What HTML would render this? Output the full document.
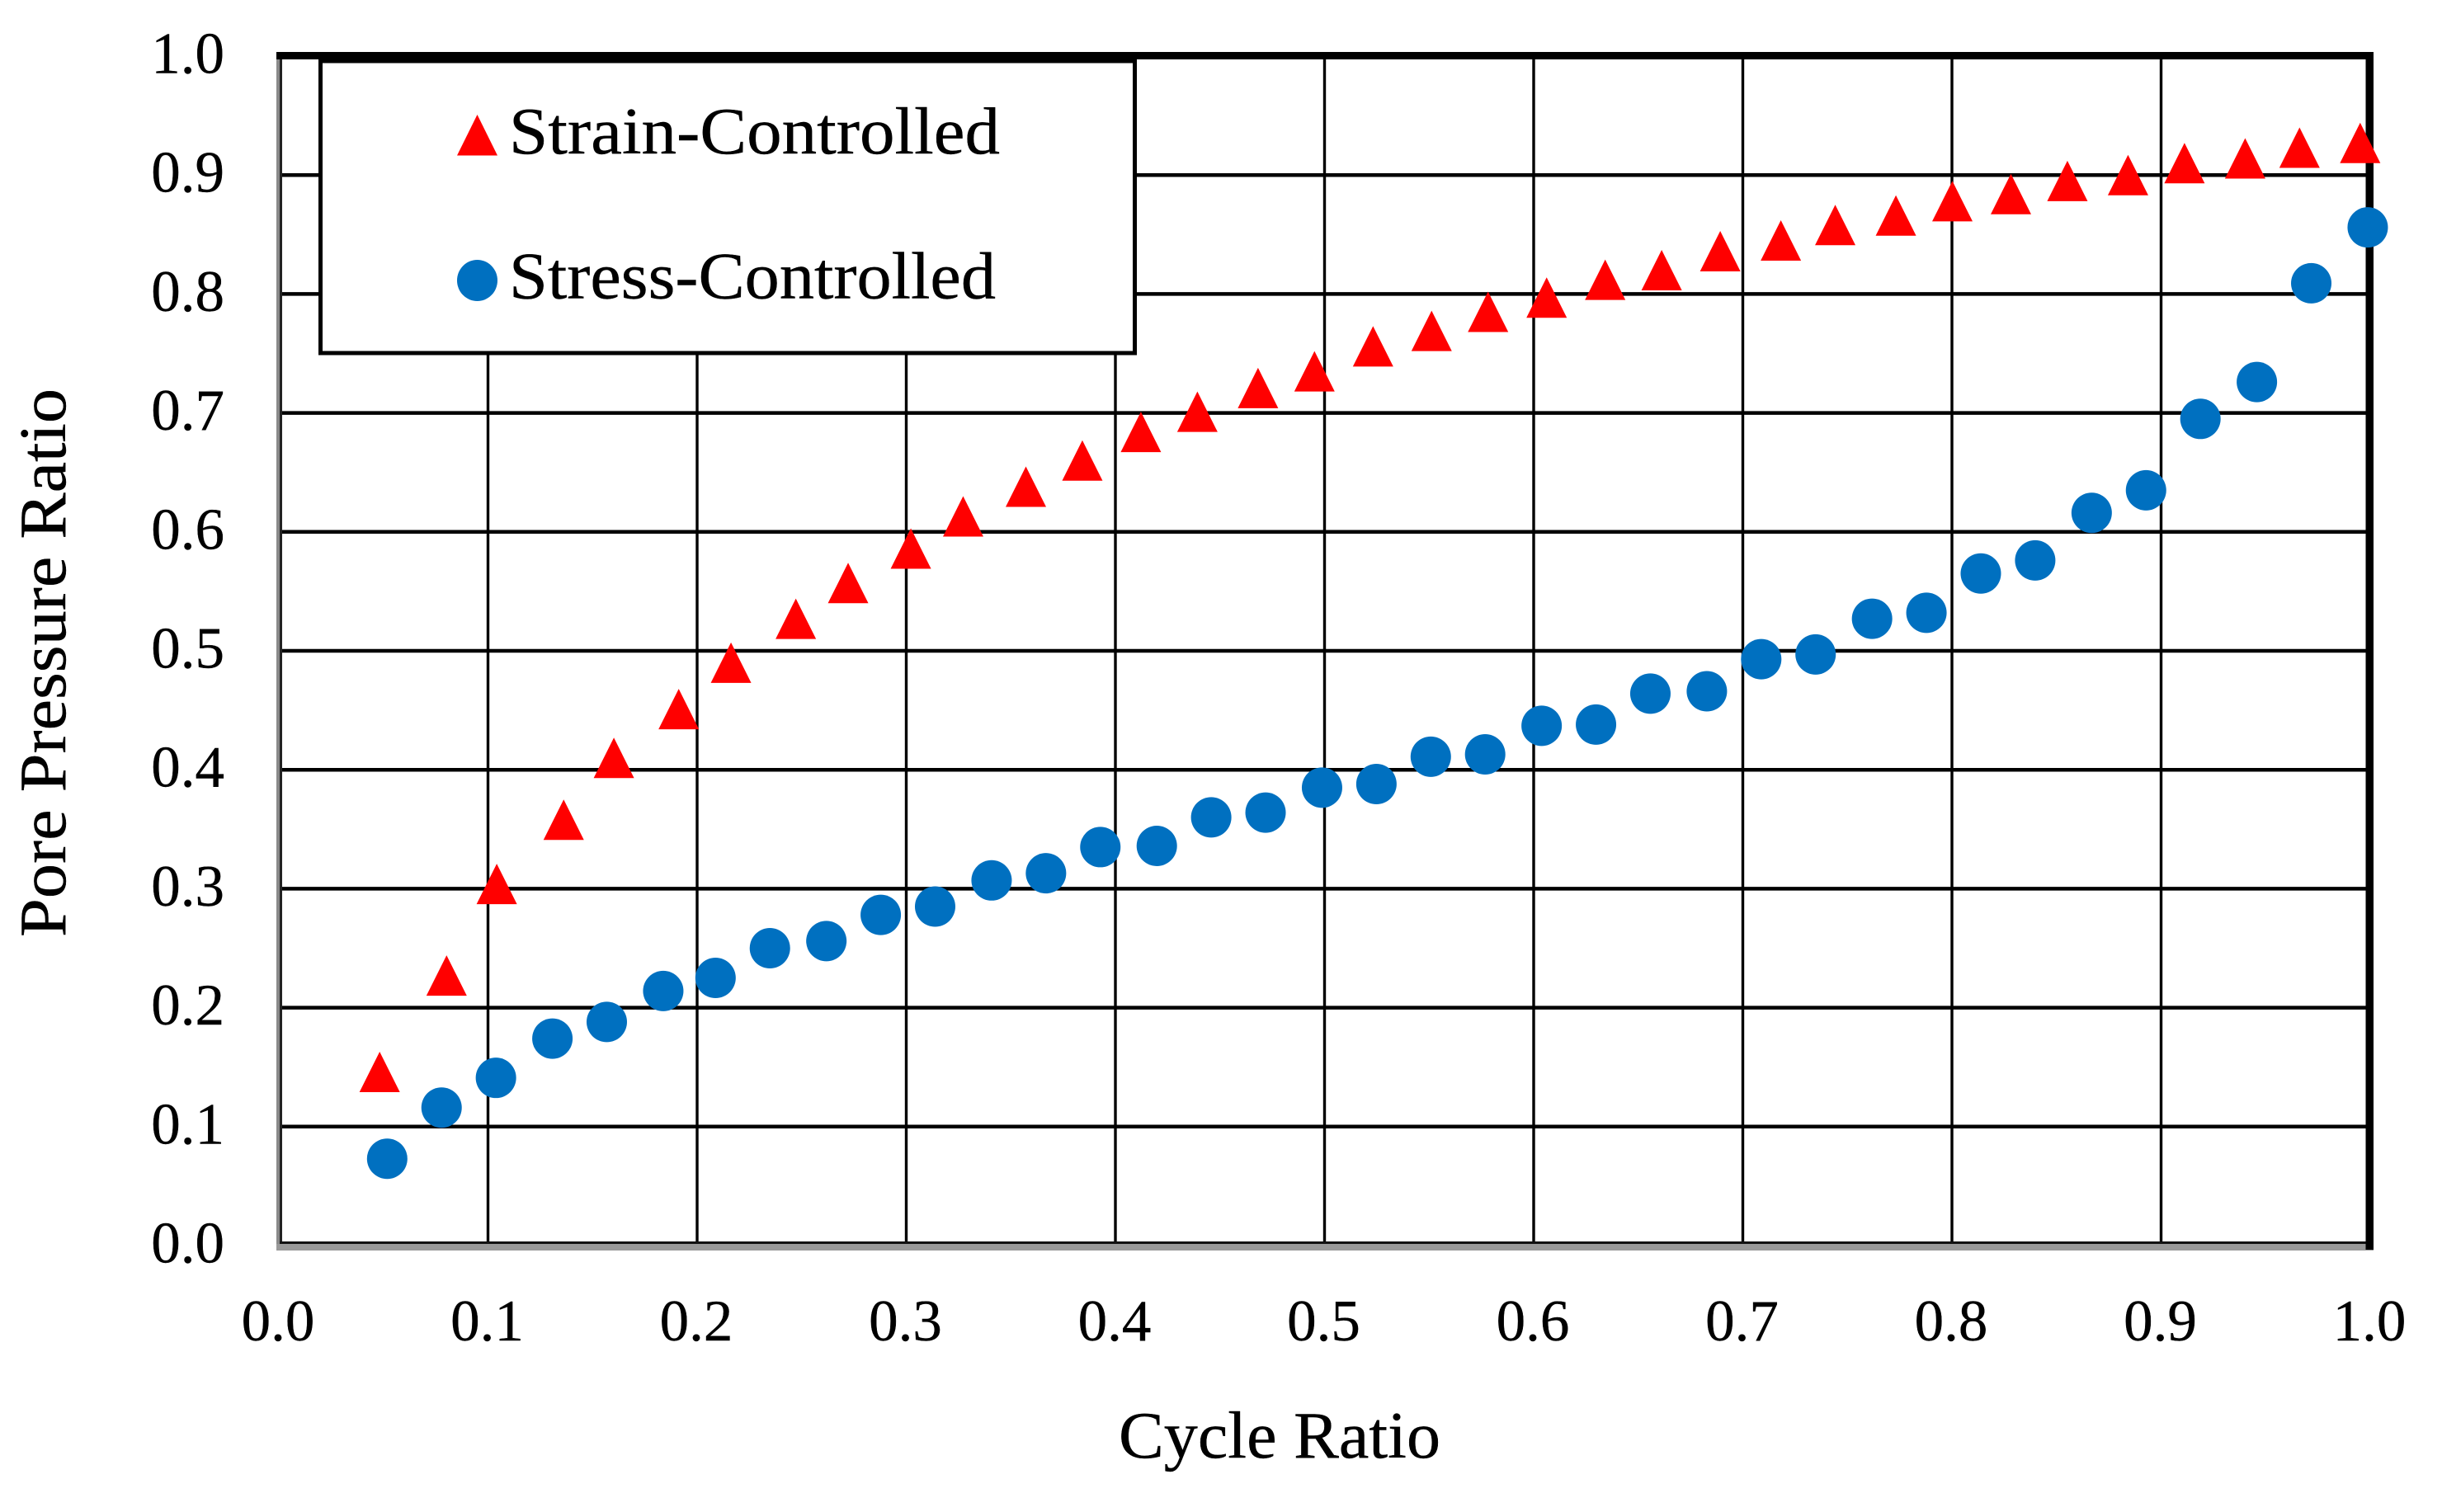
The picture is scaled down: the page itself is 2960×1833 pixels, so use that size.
<!DOCTYPE html>
<html lang="en">
<head>
<meta charset="utf-8">
<title>Pore Pressure Ratio vs Cycle Ratio</title>
<style>
  html, body { margin: 0; padding: 0; background: #fff; }
  svg { display: block; }
  text { font-family: "Liberation Serif", serif; fill: #000; stroke: #000; stroke-width: 0.4; }
</style>
</head>
<body>
<svg id="chart" xmlns="http://www.w3.org/2000/svg" width="2960" height="1833" viewBox="0 0 2960 1833">
  <rect x="0" y="0" width="2960" height="1833" fill="#fff"/>
  <g id="grid"></g>
  <g id="frame">
    <rect x="335" y="63" width="7" height="1452" fill="#8a8a8a"/>
    <rect x="339" y="63" width="3" height="1445" fill="#222"/>
    <rect x="335" y="1508" width="2542" height="8" fill="#999"/>
    <rect x="339" y="1505" width="2530" height="3" fill="#111"/>
    <rect x="335" y="63" width="2542" height="9" fill="#000"/>
    <rect x="2867.5" y="63" width="9.5" height="1452" fill="#000"/>
  </g>
  <g id="ticks"></g>
  <g id="marks"></g>
  <g id="legend">
    <rect x="388.5" y="74" width="987" height="354" fill="#fff" stroke="#000" stroke-width="5"/>
    <polygon points="578.5,139 603,188.5 554,188.5" fill="#ff0000"/>
    <text x="617" y="186" font-size="80" textLength="595" lengthAdjust="spacingAndGlyphs">Strain-Controlled</text>
    <ellipse cx="578.5" cy="340" rx="24.5" ry="25" fill="#0070c0"/>
    <text x="617" y="361.5" font-size="80" textLength="590" lengthAdjust="spacingAndGlyphs">Stress-Controlled</text>
  </g>
  <text x="1356" y="1767" font-size="80" textLength="390" lengthAdjust="spacingAndGlyphs">Cycle Ratio</text>
  <text transform="translate(79,1136) rotate(-90)" x="0" y="0" font-size="80" textLength="665" lengthAdjust="spacingAndGlyphs">Pore Pressure Ratio</text>
</svg>
<script>
const xTickLabels = ["0.0","0.1","0.2","0.3","0.4","0.5","0.6","0.7","0.8","0.9","1.0"];
const yTickLabels = ["0.0","0.1","0.2","0.3","0.4","0.5","0.6","0.7","0.8","0.9","1.0"];

const strainCycleRatio = [0.048,0.080,0.104,0.136,0.160,0.191,0.216,0.247,0.272,0.302,0.327,0.357,0.384,0.412,0.439,0.468,0.495,0.523,0.551,0.578,0.606,0.634,0.661,0.689,0.718,0.744,0.773,0.800,0.828,0.855,0.884,0.911,0.940,0.966,0.995];
const strainPoreRatio = [0.146,0.227,0.304,0.358,0.410,0.451,0.490,0.527,0.557,0.586,0.613,0.638,0.660,0.684,0.701,0.721,0.735,0.756,0.769,0.785,0.797,0.812,0.820,0.836,0.845,0.858,0.866,0.878,0.884,0.895,0.900,0.910,0.914,0.923,0.927];

const stressCycleRatio = [0.052,0.078,0.104,0.131,0.157,0.184,0.209,0.235,0.262,0.288,0.314,0.341,0.367,0.393,0.420,0.446,0.472,0.499,0.525,0.551,0.577,0.604,0.630,0.656,0.683,0.709,0.735,0.762,0.788,0.814,0.840,0.867,0.893,0.919,0.946,0.972,0.999];
const stressPoreRatio = [0.073,0.116,0.141,0.174,0.188,0.214,0.225,0.250,0.256,0.278,0.285,0.307,0.313,0.335,0.336,0.360,0.364,0.385,0.388,0.411,0.413,0.437,0.438,0.464,0.466,0.493,0.497,0.527,0.532,0.565,0.576,0.616,0.635,0.695,0.726,0.809,0.856];

const NS = "http://www.w3.org/2000/svg";
function xScale(v) { return 338 + 2535 * v; }
function yScale(v) { return 1510 - 1442 * v; }

const gridGroup = document.getElementById("grid");
const tickGroup = document.getElementById("ticks");
const marksGroup = document.getElementById("marks");

function make(tag, attrs, parent) {
  const el = document.createElementNS(NS, tag);
  for (const k in attrs) el.setAttribute(k, attrs[k]);
  parent.appendChild(el);
  return el;
}

xTickLabels.forEach(function (label) {
  const v = parseFloat(label);
  const px = xScale(v);
  if (v > 0 && v < 1) {
    const line = make("line", { x1: px, x2: px, y1: 68, y2: 1510, stroke: "#000", "stroke-width": 3.4 }, gridGroup);
    
    
  }
  const t = make("text", { x: px - 1, y: 1625, "font-size": 71, "text-anchor": "middle" }, tickGroup);
  t.textContent = label;
  
  
});

yTickLabels.forEach(function (label) {
  const v = parseFloat(label);
  const py = yScale(v);
  if (v > 0 && v < 1) {
    const line = make("line", { x1: 338, x2: 2873, y1: py, y2: py, stroke: "#000", "stroke-width": 4.5 }, gridGroup);
    
    
  }
  const t = make("text", { x: 272, y: py + 20.5, "font-size": 71, "text-anchor": "end" }, tickGroup);
  t.textContent = label;
  
  
});

strainCycleRatio.forEach(function (xv, i) {
  const cx = xScale(xv) + 0.5;
  const cy = yScale(strainPoreRatio[i]);
  const r = 24.5;
  const tri = make("polygon", {
    points: cx + "," + (cy - r) + " " + (cx + r) + "," + (cy + r) + " " + (cx - r) + "," + (cy + r),
    fill: "#ff0000"
  }, marksGroup);
  
  
});

stressCycleRatio.forEach(function (xv, i) {
  const c = make("circle", { cx: xScale(xv) - 0.5, cy: yScale(stressPoreRatio[i]), r: 24.5, fill: "#0070c0" }, marksGroup);
  
  
});
</script>
</body>
</html>
